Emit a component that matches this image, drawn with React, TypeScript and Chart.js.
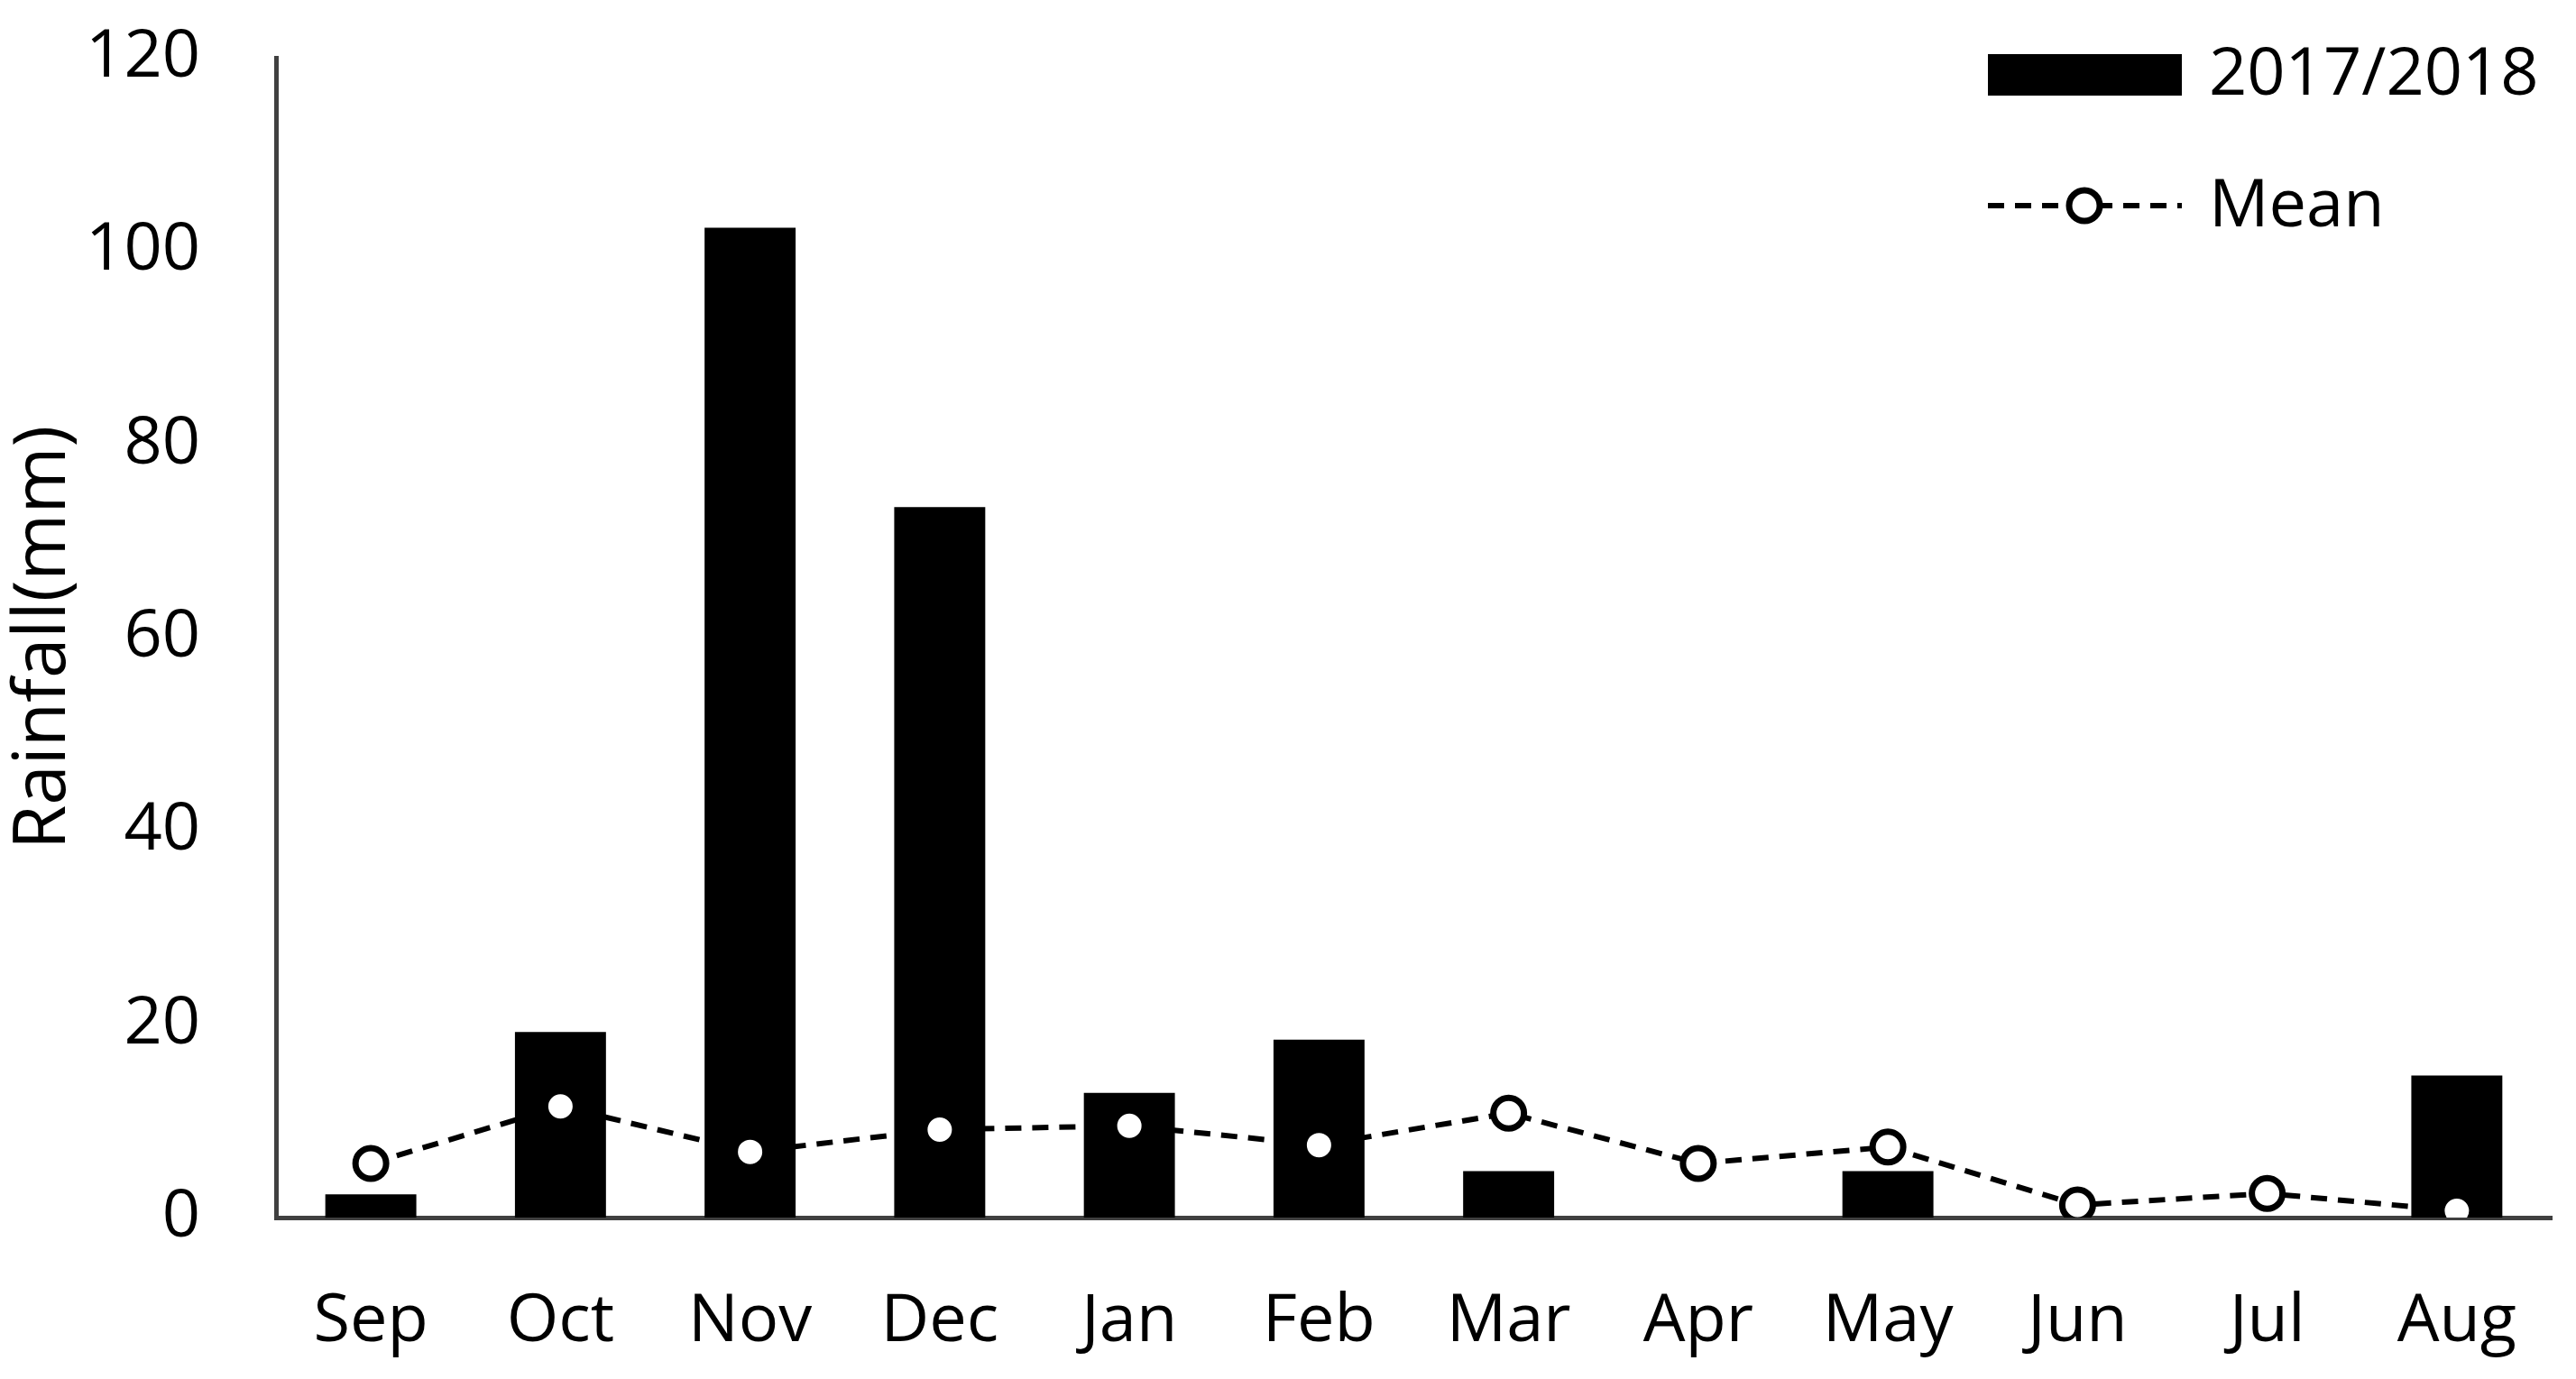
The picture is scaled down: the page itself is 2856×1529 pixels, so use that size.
import React, { useEffect, useRef } from "react";
import { Chart, registerables } from "chart.js";

Chart.register(...registerables);

const months = ["Sep", "Oct", "Nov", "Dec", "Jan", "Feb", "Mar", "Apr", "May", "Jun", "Jul", "Aug"];
const rainfall2017 = [2.4, 19.2, 102.4, 73.5, 12.9, 18.4, 4.8, 0, 4.8, 0, 0, 14.7];
const rainfallMean = [5.6, 11.5, 6.8, 9.1, 9.5, 7.5, 10.8, 5.6, 7.3, 1.3, 2.5, 0.7];
const yTicks = [0, 20, 40, 60, 80, 100, 120];
const seriesNames = ["2017/2018", "Mean"];
const yTitle = "Rainfall(mm)";

const FONT = "'Open Sans', 'Liberation Sans', sans-serif";
const FS = 74;

const legendPlugin = {
  id: "customLegend",
  afterDraw(chart: any) {
    const ctx = chart.ctx;
    ctx.save();
    ctx.fillStyle = "#000";
    ctx.fillRect(2204, 60, 215, 46);
    ctx.font = `${FS}px ${FONT}`;
    ctx.textAlign = "left";
    ctx.textBaseline = "middle";
    ctx.fillText(seriesNames[0], 2449, 84);
    ctx.strokeStyle = "#000";
    ctx.lineWidth = 6;
    ctx.setLineDash([18, 12]);
    ctx.beginPath();
    ctx.moveTo(2204, 228);
    ctx.lineTo(2419, 228);
    ctx.stroke();
    ctx.setLineDash([]);
    ctx.lineWidth = 7;
    ctx.beginPath();
    ctx.arc(2311, 228, 17, 0, Math.PI * 2);
    ctx.fillStyle = "#fff";
    ctx.fill();
    ctx.stroke();
    ctx.fillStyle = "#000";
    ctx.fillText(seriesNames[1], 2449, 230);
    ctx.restore();
  },
};

export default function App() {
  const ref = useRef<HTMLCanvasElement | null>(null);
  useEffect(() => {
    document.body.style.margin = "0";
    const canvas = ref.current!;
    const chart = new Chart(canvas, {
      type: "bar",
      data: {
        labels: months,
        datasets: [
          {
            type: "line",
            label: seriesNames[1],
            data: rainfallMean,
            borderColor: "#000",
            borderWidth: 6,
            borderDash: [18, 12],
            pointStyle: "circle",
            pointRadius: 17,
            pointBorderWidth: 7,
            pointBackgroundColor: "#fff",
            pointBorderColor: "#000",
            fill: false,
            tension: 0,
            order: 0,
          } as any,
          {
            type: "bar",
            label: seriesNames[0],
            data: rainfall2017,
            backgroundColor: "#000",
            borderWidth: 0,
            categoryPercentage: 1,
            barPercentage: 0.48,
            order: 1,
          },
        ],
      },
      plugins: [legendPlugin],
      options: {
        responsive: false,
        animation: false,
        layout: { padding: { top: 64, right: 27, left: 0, bottom: 0 } },
        plugins: { legend: { display: false }, tooltip: { enabled: false } },
        scales: {
          x: {
            grid: { display: false, drawTicks: false },
            border: { display: true, color: "#404040", width: 5 },
            ticks: { color: "#000", font: { family: FONT, size: FS }, padding: 72, maxRotation: 0 },
            afterFit: (s: any) => {
              s.height = 179;
              s.paddingLeft = 0;
              s.paddingRight = 0;
            },
          },
          y: {
            min: 0,
            max: 120,
            grid: { display: false, drawTicks: false },
            border: { display: true, color: "#404040", width: 5 },
            afterBuildTicks: (s: any) => { s.ticks = yTicks.map((v) => ({ value: v })); },
            ticks: { color: "#000", font: { family: FONT, size: FS }, padding: 84 },
            title: {
              display: true,
              text: yTitle,
              color: "#000",
              font: { family: FONT, size: 80, lineHeight: 1 },
              padding: { top: 9, bottom: 0 },
            },
            afterFit: (s: any) => {
              s.width = 306;
              s.paddingTop = 0;
              s.paddingBottom = 0;
            },
          },
        },
      },
    });
    return () => chart.destroy();
  }, []);
  return <canvas ref={ref} width={2856} height={1529} style={{ display: "block" }} />;
}
